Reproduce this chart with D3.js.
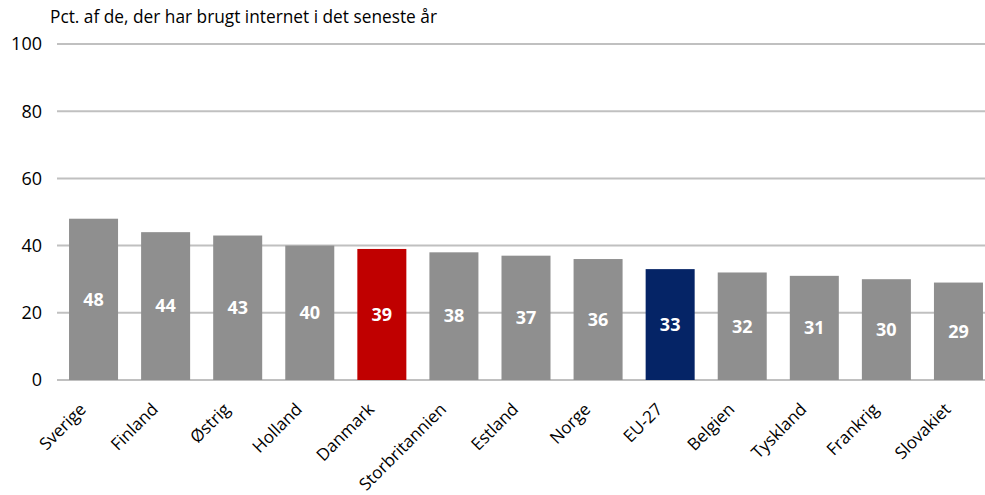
<!DOCTYPE html>
<html><head><meta charset="utf-8">
<script src="https://cdn.jsdelivr.net/npm/d3@7"></script>
<style>body{margin:0;background:#fff}svg{display:block}text{font-family:"Open Sans",sans-serif}</style>
</head><body><svg id="c" width="985" height="495"></svg>
<script>
const categories=["Sverige","Finland","Østrig","Holland","Danmark","Storbritannien","Estland","Norge","EU-27","Belgien","Tyskland","Frankrig","Slovakiet"];
const values=[48,44,43,40,39,38,37,36,33,32,31,30,29];
const yTicks=[0,20,40,60,80,100];
const title="Pct. af de, der har brugt internet i det seneste år";
const colorFor=c=>c==="Danmark"?"#c00000":c==="EU-27"?"#052466":"#8f8f8f";

const svg=d3.select("#c");
const x=d3.scaleBand().domain(categories).range([57.5,994.5]).paddingInner(0.32).paddingOuter(0.16);
const y=d3.scaleLinear().domain([0,100]).range([380,44]);

svg.append("g").selectAll("line").data(yTicks).join("line")
 .attr("x1",57).attr("x2",985).attr("y1",d=>y(d)).attr("y2",d=>y(d))
 .attr("stroke","#c0c0c0").attr("stroke-width",2);
svg.append("g").selectAll("text").data(yTicks).join("text")
 .attr("x",42).attr("y",d=>y(d)).attr("dy","0.35em").attr("text-anchor","end")
 .attr("font-size",18).attr("fill","#000").text(d=>d);
svg.append("text").attr("x",50).attr("y",23).attr("font-size",17.3).attr("fill","#000").text(title);

svg.append("g").selectAll("rect").data(categories).join("rect")
 .attr("x",d=>x(d)).attr("width",x.bandwidth())
 .attr("y",(d,i)=>y(values[i])).attr("height",(d,i)=>y(0)-y(values[i]))
 .attr("fill",colorFor);
svg.append("g").selectAll("text").data(categories).join("text")
 .attr("x",d=>x(d)+x.bandwidth()/2).attr("y",(d,i)=>y(values[i]/2)).attr("dy","0.35em")
 .attr("text-anchor","middle").attr("font-size",18).attr("font-weight","bold").attr("fill","#fff")
 .text((d,i)=>values[i]);
svg.append("g").selectAll("text").data(categories).join("text")
 .attr("transform",d=>`translate(${x(d)+x.bandwidth()/2-15},402) rotate(-45)`)
 .attr("text-anchor","end").attr("dy","0.7em").attr("font-size",17).attr("fill","#000").text(d=>d);
</script></body></html>
